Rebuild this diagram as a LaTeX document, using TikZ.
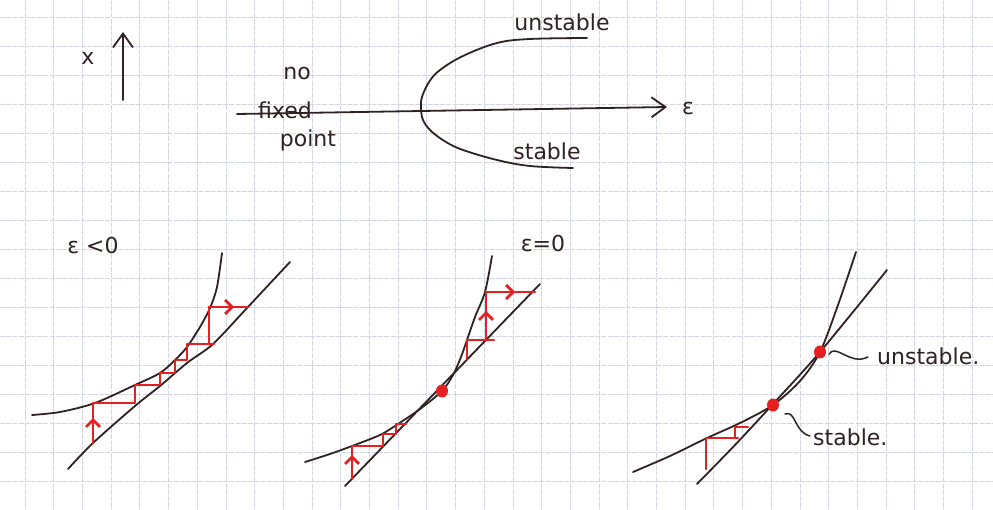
\documentclass[tikz,border=0pt]{standalone}
\usepackage{fontspec}
\setmainfont{DejaVu Sans}
\usetikzlibrary{arrows.meta,shapes.geometric}
\definecolor{gridc}{RGB}{212,213,228}
\definecolor{inkc}{RGB}{48,34,34}
\definecolor{redc}{RGB}{228,32,32}
\tikzset{
  gridline/.style={draw=gridc,line width=0.7pt,dash pattern=on 5pt off 1.2pt},
  ink/.style={draw=inkc,line width=1.8pt,line cap=round,line join=round},
  cob/.style={draw=redc,line width=2.8pt,line cap=round,line join=round},
  lab/.style={text=inkc,font=\fontsize{22}{26}\selectfont,inner sep=0pt},
  fpdot/.style={fill=redc,draw=none,ellipse,minimum width=12pt,minimum height=13pt,inner sep=0pt},
  barb/.style={-{Straight Barb[length=14pt,width=20pt]}},
  rbarb/.style={-{Straight Barb[length=7pt,width=14pt]}}
}
\begin{document}
\begin{tikzpicture}[x=1pt,y=-1pt]
\useasboundingbox (0,0) rectangle (993,510);
\fill[white] (0,0) rectangle (993,510);
% grid paper
\foreach \k in {0,...,33} \draw[gridline] ({25+28.7*\k},0) -- ({25+28.7*\k},510);
\foreach \k in {0,...,17} \draw[gridline] (0,{17.3+29*\k}) -- (993,{17.3+29*\k});

% ---------- top: bifurcation diagram ----------
\coordinate (xa0) at (123,100);
\coordinate (xa1) at (123,32);
\draw[ink,barb] (xa0) -- (xa1);
\node[lab] (xlab) at (88,58) {x};

\node[lab] (no) at (297,73) {no};
\node[lab] (fixed) at (285,110) {fixed};
\node[lab] (point) at (308,140) {point};

\coordinate (ea0) at (237,114);
\coordinate (ea1) at (667,107);
\draw[ink,barb] (ea0) -- (ea1);
\node[lab] (eps) at (688,108) {ε};

\draw[ink] plot[smooth,tension=0.6] coordinates {(587,38) (530,39) (497,43) (463,56) (440,70) (429,82) (422,97) (421,108) (423,120) (431,131) (446,142) (463,150) (497,160) (530,166) (573,168)};
\node[lab] (unst) at (562,22) {unstable};
\node[lab] (stab) at (547,151) {stable};

% ---------- panel 1: epsilon < 0 ----------
\node[lab] (p1) at (93,245) {ε <0};
\draw[ink] plot[smooth] coordinates {(32,415) (60,412) (95,403) (135,385) (160,373) (175,360) (187,347) (200,327) (210,308) (217,287) (222,253)};
\draw[ink] plot[smooth] coordinates {(68,469) (93,443) (135,406) (160,386) (187,363) (213,344) (247,308) (290,262)};
\draw[cob] (93,443) -- (93,403) -- (135,403) -- (135,385) -- (160,385) -- (160,373) -- (175,373) -- (175,360) -- (187,360) -- (187,344) -- (214,344);
\draw[cob] (209,344) -- (209,307) -- (248,307);
\draw[cob,rbarb] (93,443) -- (93,418);
\draw[cob,rbarb] (209,307) -- (234,307);

% ---------- panel 2: epsilon = 0 ----------
\node[lab] (p2) at (543,243) {ε=0};
\draw[ink] plot[smooth] coordinates {(305,462) (330,454) (352,446) (380,435) (398,424) (420,409) (442,391) (453,375) (461,357) (467,340) (475,317) (485,292) (492,256)};
\draw[ink] (345,486) -- (540,284);
\draw[cob] (352,478) -- (352,446) -- (383,446) -- (383,434) -- (396,434) -- (396,424) -- (406,424);
\draw[cob,rbarb] (352,478) -- (352,455);
\draw[cob] (467,359) -- (467,340) -- (494,340);
\draw[cob] (486,340) -- (486,292) -- (535,292);
\draw[cob,rbarb] (486,340) -- (486,311);
\draw[cob,rbarb] (486,292) -- (515,292);
\node[fpdot] (fp0) at (442,391) {};

% ---------- panel 3: epsilon > 0 ----------
\draw[ink] plot[smooth] coordinates {(633,472) (670,456) (707,438) (740,423) (773,405) (800,381) (820,352) (838,305) (856,252)};
\draw[ink] plot[smooth] coordinates {(697,484) (735,445) (773,404) (820,352) (887,270)};
\draw[cob] (706,469) -- (706,438) -- (738,438);
\draw[cob] (735,438) -- (735,427) -- (748,427);
\node[fpdot] (fps) at (773,405) {};
\node[fpdot] (fpu) at (820,352) {};
\node[lab,anchor=west] (lu) at (877,356) {unstable.};
\node[lab,anchor=west] (ls) at (813,437) {stable.};
\coordinate (tu0) at (829,354);
\coordinate (tu1) at (868,357);
\draw[ink,line width=1.5pt] (tu0) .. controls (836,343) and (850,366) .. (tu1);
\coordinate (ts0) at (785,414);
\coordinate (ts1) at (810,436);
\draw[ink,line width=1.5pt] (ts0) .. controls (796,410) and (794,432) .. (ts1);
\end{tikzpicture}
\end{document}
